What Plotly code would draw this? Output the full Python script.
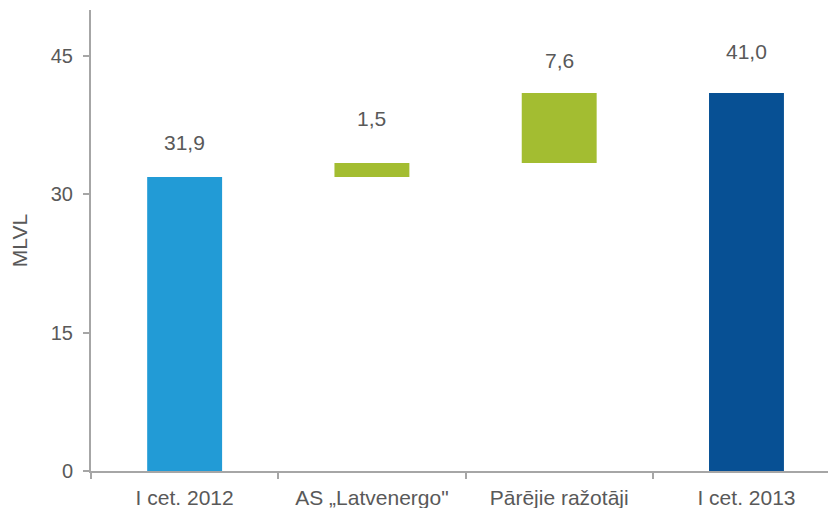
import plotly.graph_objects as go

categories = ["I cet. 2012", "AS \u201eLatvenergo\"", "P\u0101r\u0113jie ra\u017eot\u0101ji", "I cet. 2013"]
values = [31.9, 1.5, 7.6, 41.0]
value_labels = ["31,9", "1,5", "7,6", "41,0"]
y_ticks = [0, 15, 30, 45]

colors = ["#229BD6", "#A3BD31", "#A3BD31", "#075094"]
label_shift = [34, 45, 32, 41]

bases = [0, values[0], values[0] + values[1], 0]
tops = [b + v for b, v in zip(bases, values)]

fig = go.Figure()
fig.add_trace(go.Bar(
    x=categories, y=values, base=bases,
    marker=dict(color=colors, line=dict(width=0)),
    width=0.4, hoverinfo="skip", showlegend=False,
))

font = "Liberation Sans, Arial, sans-serif"
gray = "#595959"
for c, t, lab, s in zip(categories, tops, value_labels, label_shift):
    fig.add_annotation(x=c, y=t, text=lab, showarrow=False, yshift=s,
                       font=dict(family=font, size=21, color=gray))

fig.update_layout(
    width=828, height=500,
    margin=dict(l=83, r=0, t=2, b=37),
    plot_bgcolor="white", paper_bgcolor="white",
    font=dict(family=font, size=21, color=gray),
)
fig.update_xaxes(
    type="category", range=[-0.5, 3.478],
    showline=True, linecolor="#A6A6A6", linewidth=2,
    ticks="outside", ticklen=6, tickcolor="#A6A6A6", tickwidth=2,
    tickson="boundaries", showgrid=False,
    tickfont=dict(family=font, size=21, color=gray),
    ticklabelstandoff=7,
)
fig.update_yaxes(
    range=[0, 50], tickvals=y_ticks, ticktext=[str(v) for v in y_ticks],
    showline=True, linecolor="#A6A6A6", linewidth=2,
    ticks="outside", ticklen=6, tickcolor="#A6A6A6", tickwidth=2,
    showgrid=False, zeroline=False,
    tickfont=dict(family=font, size=20, color=gray),
    title=dict(text="MLVL", font=dict(family=font, size=21, color=gray), standoff=19),
    ticklabelstandoff=6,
)

fig.write_html("out.html")
